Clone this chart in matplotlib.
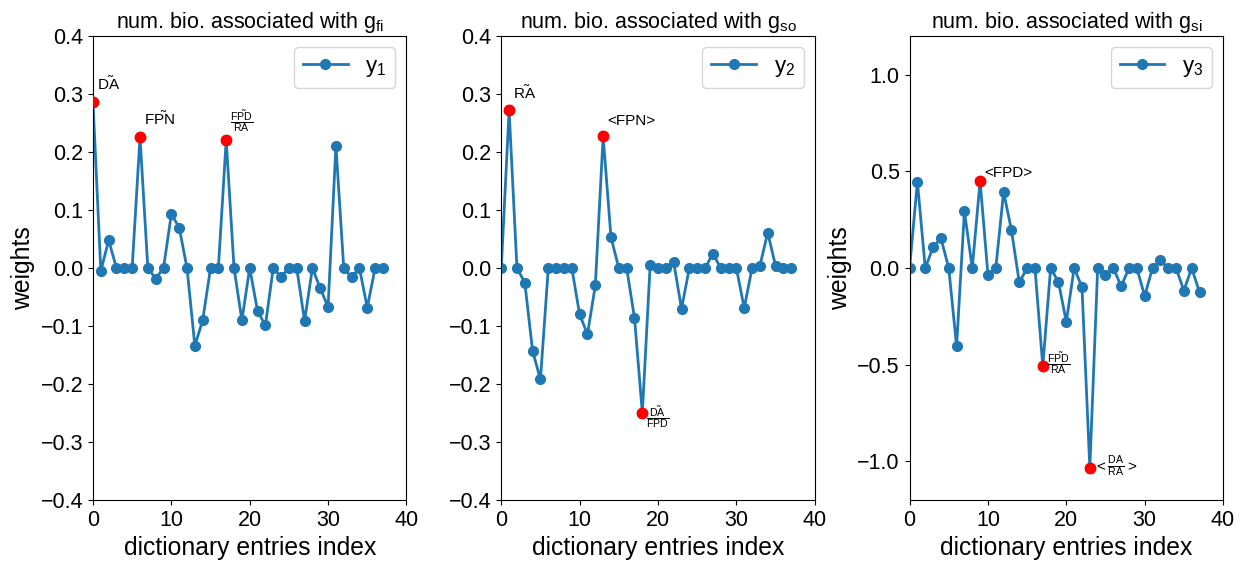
import numpy as np
import matplotlib
matplotlib.use("Agg")
import matplotlib.pyplot as plt

plt.rcParams["font.family"] = ["Liberation Sans", "DejaVu Sans"]
plt.rcParams["mathtext.fontset"] = "custom"
plt.rcParams["mathtext.rm"] = "Liberation Sans"
plt.rcParams["mathtext.it"] = "Liberation Sans"
plt.rcParams["mathtext.default"] = "regular"

# weights per dictionary entry (38 entries)
y1 = [0.287, -0.005, 0.048, 0, 0, 0, 0.226, 0, -0.018, 0,
      0.093, 0.070, 0, -0.134, -0.090, 0, 0, 0.221, 0, -0.090,
      0, -0.074, -0.099, 0, -0.015, 0, 0, -0.091, 0, -0.035,
      -0.067, 0.211, 0, -0.016, 0, -0.068, 0, 0]
y2 = [0, 0.272, 0, -0.025, -0.143, -0.192, 0, 0, 0, 0,
      -0.080, -0.114, -0.030, 0.227, 0.053, 0, 0, -0.086, -0.250, 0.006,
      0, 0, 0.010, -0.070, 0, 0, 0, 0.025, 0, 0,
      0, -0.069, 0, 0.004, 0.061, 0.004, 0, 0]
y3 = [0, 0.447, 0, 0.108, 0.155, 0, -0.404, 0.294, 0, 0.450,
      -0.034, 0, 0.394, 0.196, -0.074, 0, 0, -0.507, 0, -0.072,
      -0.278, 0, -0.098, -1.034, 0, -0.034, 0, -0.094, 0, 0,
      -0.144, 0, 0.040, 0, 0, -0.116, 0, -0.125]

series = [y1, y2, y3]
legend_labels = [r"$y_1$", r"$y_2$", r"$y_3$"]
titles = [r"num. bio. associated with $g_{fi}$",
          r"num. bio. associated with $g_{so}$",
          r"num. bio. associated with $g_{si}$"]

# highlighted entries and their names
highlight_idx = [[0, 6, 17], [1, 13, 18], [9, 17, 23]]
highlight_names = [
    [r"$\tilde{DA}$", r"$\tilde{FPN}$", r"$\frac{\tilde{FPD}}{RA}$"],
    [r"$\tilde{RA}$", "<FPN>", r"$\frac{\tilde{DA}}{FPD}$"],
    ["<FPD>", r"$\frac{\tilde{FPD}}{RA}$", r"$<\frac{DA}{RA}>$"],
]

ylims = [(-0.4, 0.4), (-0.4, 0.4), (-1.2, 1.2)]
yticks = [np.arange(-0.4, 0.41, 0.1), np.arange(-0.4, 0.41, 0.1),
          np.arange(-1.0, 1.01, 0.5)]

fig, axes = plt.subplots(1, 3, figsize=(12.48, 5.65), dpi=100)
fig.subplots_adjust(left=0.0745, right=0.98, top=0.936, bottom=0.115,
                    wspace=0.3025)

for k, ax in enumerate(axes):
    y = np.array(series[k])
    x = np.arange(len(y))
    ax.plot(x, y, marker="o", color="C0", linewidth=2, markersize=7,
            label=legend_labels[k])
    for idx, name in zip(highlight_idx[k], highlight_names[k]):
        ax.plot(x[idx], y[idx], "o", color="red", markersize=7.5, zorder=3)
        dy = 0.02 if y[idx] > 0 else -0.02
        ax.text(x[idx] + 0.5, y[idx] + dy, name, fontsize=11)
    ax.set_xlim(0, 40)
    ax.set_ylim(*ylims[k])
    ax.set_xticks([0, 10, 20, 30, 40])
    ax.set_yticks(yticks[k])
    ax.tick_params(labelsize=15.5)
    ax.set_xlabel("dictionary entries index", fontsize=17.8)
    if k != 1:
        ax.set_ylabel("weights", fontsize=17.8)
    ax.set_title(titles[k], fontsize=15.5)
    ax.legend(fontsize=16, loc="upper right")

fig.savefig("out.png", dpi=100)
